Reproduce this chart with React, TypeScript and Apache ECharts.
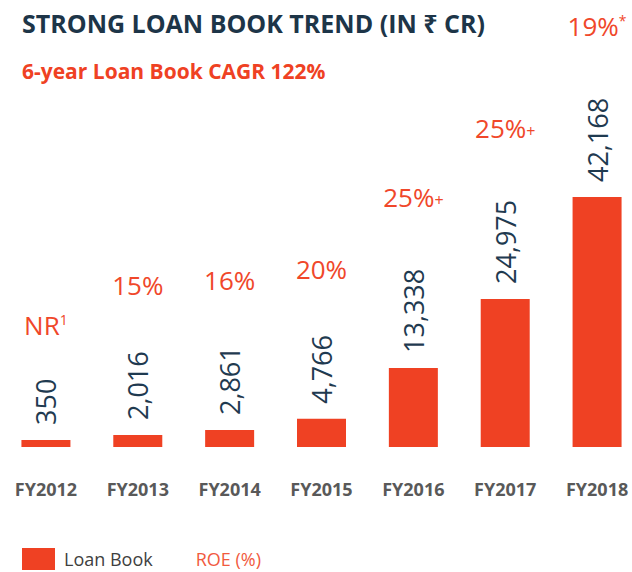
import React, { useEffect, useRef } from "react";
import * as echarts from "echarts";

const categories = ["FY2012", "FY2013", "FY2014", "FY2015", "FY2016", "FY2017", "FY2018"];
const loanBook = [350, 2016, 2861, 4766, 13338, 24975, 42168];
const roe: (number | null)[] = [null, 15, 16, 20, 25, 25, 19];
const roeNotes = ["1", "", "", "", "+", "+", "*"];

const TITLE = "STRONG LOAN BOOK TREND (IN \u20B9 CR)";
const SUBTITLE = "6-year Loan Book CAGR 122%";

const RED = "#ef4123";
const ROE_RED = "#f0472a";
const NAVY = "#1f3a50";
const FONT = '"Open Sans", "Noto Sans", sans-serif';
const VALUE_FONT_SIZE = 27;

function measure(text: string, size: number): number {
  try {
    const c = document.createElement("canvas").getContext("2d");
    if (c) {
      c.font = `${size}px "Open Sans"`;
      const w = c.measureText(text).width;
      if (w > 0) return w;
    }
  } catch (e) {}
  return text.length * size * 0.52;
}

function fmt(v: number): string {
  return v.toLocaleString("en-US");
}

export default function App() {
  const ref = useRef<HTMLDivElement>(null);
  useEffect(() => {
    if (!ref.current) return;
    const chart = echarts.init(ref.current, undefined, { renderer: "svg" });

    const roeData = loanBook.map((v, i) => {
      const len = measure(fmt(v), VALUE_FONT_SIZE);
      const base = roe[i] == null ? "NR" : `${roe[i]}%`;
      const note = roeNotes[i];
      let text = `{b|${base}}`;
      if (note === "+") text += `{sm|+}`;
      else if (note) text += `{sup|${note}}`;
      return {
        value: v,
        label: { distance: 1.35 * len + 44, formatter: text },
      };
    });

    chart.setOption({
      animation: false,
      title: [
        {
          text: TITLE,
          left: 22,
          top: 10,
          padding: 0,
          textStyle: { color: "#1d3548", fontFamily: FONT, fontWeight: "bold", fontSize: 25 },
        },
        {
          text: SUBTITLE,
          left: 22,
          top: 60,
          padding: 0,
          textStyle: { color: RED, fontFamily: FONT, fontWeight: "bold", fontSize: 21 },
        },
      ],
      legend: {
        left: 22,
        top: 548,
        padding: 0,
        itemWidth: 33,
        itemHeight: 22,
        itemGap: 1,
        selectedMode: false,
        textStyle: { color: "#404040", fontFamily: FONT, fontSize: 18, padding: [0, 0, 0, 4] },
        data: [
          { name: "Loan Book", icon: "rect" },
          { name: "ROE (%)", icon: "none", textStyle: { color: "#f15a3e" } },
        ],
      },
      grid: { left: 0, width: 643, top: 150.6, bottom: 125, outerBoundsMode: "none", containLabel: false },
      xAxis: {
        type: "category",
        data: categories,
        axisLine: { show: false },
        axisTick: { show: false },
        axisLabel: {
          margin: 33,
          color: "#595959",
          fontFamily: FONT,
          fontWeight: "bold",
          fontSize: 18,
        },
      },
      yAxis: {
        type: "value",
        min: 0,
        max: 50000,
        show: false,
        splitLine: { show: false },
      },
      series: [
        {
          name: "Loan Book",
          type: "bar",
          data: loanBook,
          barWidth: 49,
          barMinHeight: 7,
          itemStyle: { color: RED },
          label: {
            show: true,
            position: "top",
            rotate: 90,
            align: "left",
            verticalAlign: "middle",
            distance: 15,
            color: NAVY,
            fontFamily: FONT,
            fontSize: VALUE_FONT_SIZE,
            formatter: (p: any) => fmt(p.value),
          },
        },
        {
          name: "ROE (%)",
          type: "scatter",
          data: roeData,
          symbolSize: 0,
          silent: true,
          itemStyle: { color: ROE_RED, opacity: 1 },
          label: {
            show: true,
            position: "top",
            opacity: 1,
            color: ROE_RED,
            fontFamily: FONT,
            rich: {
              b: { fontSize: 26, color: ROE_RED, fontFamily: FONT, verticalAlign: "bottom" },
              sup: { fontSize: 14, color: ROE_RED, fontFamily: FONT, verticalAlign: "top" },
              sm: { fontSize: 16, color: ROE_RED, fontFamily: FONT, verticalAlign: "bottom", padding: [0, 0, 2, 0] },
            },
          },
        },
      ],
    });
    return () => chart.dispose();
  }, []);
  return (
    <div
      ref={ref}
      style={{ position: "absolute", left: 0, top: 0, width: 632, height: 572 }}
    />
  );
}
